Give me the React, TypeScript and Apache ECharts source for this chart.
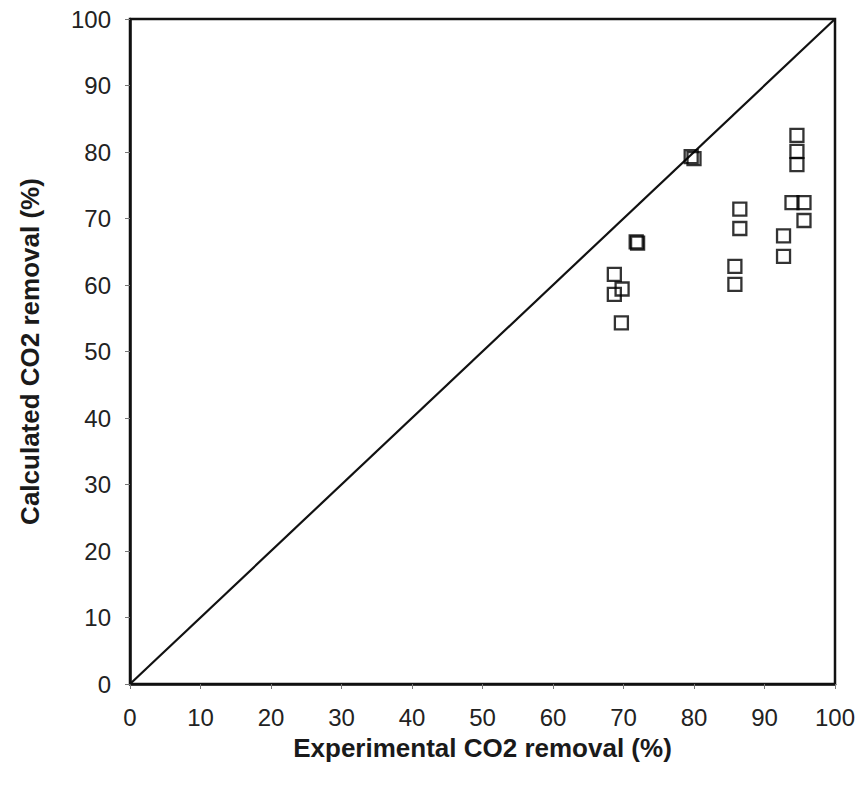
import React, { useEffect, useRef } from "react";
import * as echarts from "echarts";

// Experimental vs calculated CO2 removal (%)
const experimental = [
  79.6, 80.0, 71.8, 72.0, 68.7, 69.8, 68.7, 69.7,
  86.5, 86.5, 85.8, 85.8,
  94.6, 94.6, 94.6, 93.9, 95.6, 95.6, 92.7, 92.7,
];
const calculated = [
  79.3, 79.0, 66.5, 66.3, 61.6, 59.4, 58.6, 54.3,
  71.4, 68.5, 62.8, 60.1,
  82.5, 80.1, 78.1, 72.4, 72.4, 69.7, 67.4, 64.3,
];
const parityLine = [
  [0, 0],
  [100, 100],
];
const axisMin = 0;
const axisMax = 100;
const axisStep = 10;

const points = experimental.map((x, i) => [x, calculated[i]]);

const FONT = "'Liberation Sans', Arial, sans-serif";

export default function App() {
  const ref = useRef<HTMLDivElement>(null);

  useEffect(() => {
    if (!ref.current) return;
    const chart = echarts.init(ref.current, undefined, { renderer: "svg" });
    const axisCommon = {
      type: "value" as const,
      min: axisMin,
      max: axisMax,
      interval: axisStep,
      nameLocation: "middle" as const,
      nameTextStyle: {
        fontFamily: FONT,
        fontSize: 26,
        fontWeight: "bold" as const,
        color: "#1a1a1a",
      },
      axisLine: { show: true, lineStyle: { color: "#111", width: 2.5 } },
      axisTick: {
        show: true,
        inside: false,
        length: 5,
        lineStyle: { color: "#777", width: 1 },
      },
      axisLabel: {
        fontFamily: FONT,
        fontSize: 24,
        color: "#222",
      },
      splitLine: { show: false },
    };
    chart.setOption({
      animation: false,
      backgroundColor: "#fff",
      grid: {
        left: 130,
        right: 26,
        top: 19,
        bottom: 112,
        show: true,
        borderColor: "#111",
        borderWidth: 2.5,
      },
      xAxis: {
        ...axisCommon,
        name: "Experimental CO2 removal (%)",
        nameGap: 51,
        axisLabel: { ...axisCommon.axisLabel, margin: 21 },
      },
      yAxis: {
        ...axisCommon,
        name: "Calculated CO2 removal (%)",
        nameGap: 87,
        axisLabel: { ...axisCommon.axisLabel, margin: 19 },
      },
      series: [
        {
          type: "line",
          data: parityLine,
          showSymbol: false,
          symbol: "none",
          lineStyle: { color: "#111", width: 2.2 },
          z: 2,
        },
        {
          type: "scatter",
          data: points,
          symbol: "rect",
          symbolSize: 13,
          itemStyle: {
            color: "rgba(255,255,255,0)",
            borderColor: "#000",
            borderWidth: 2.3,
          },
          z: 3,
        },
      ],
    });
    return () => chart.dispose();
  }, []);

  return (
    <div
      ref={ref}
      style={{ position: "absolute", left: 0, top: 0, width: 861, height: 796 }}
    />
  );
}
